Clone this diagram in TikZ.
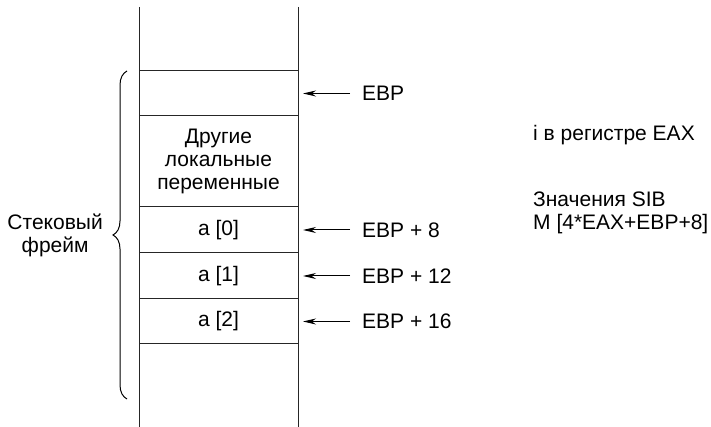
\documentclass[tikz,border=0pt]{standalone}
\usepackage{fontspec}
\setmainfont{Liberation Sans}
\usetikzlibrary{arrows.meta, positioning, decorations.pathreplacing}

\begin{document}
\begin{tikzpicture}[x=1pt, y=1pt,
        % Set global font size for consistency
        font=\fontsize{21}{23}\selectfont,
        % Define reusable styles for the stack and its pointers
        wall/.style={line width=1pt, black!85},
        cell/.style={draw=black!85, line width=1pt, minimum width=159pt, inner sep=0pt, outer sep=0pt, align=center},
        ptr/.style={-{Stealth[length=13pt, width=6pt]}, line width=1pt, shorten <=12pt, shorten >=5pt},
        lbl/.style={anchor=west, inner sep=0pt, align=left},
        framebrace/.style={decorate, decoration={brace, amplitude=14pt}, line width=1pt}
    ]

    \useasboundingbox (0,0) rectangle (711,427);

    % Side walls of the stack
    \draw[wall] (139,420) -- (139,0);
    \draw[wall] (298,420) -- (298,0);

    % Cells of the stack frame
    \node[cell, minimum height=45pt, anchor=north west] (ebp) at (139,356) {};
    \node[cell, minimum height=91pt, below=0pt of ebp] (loc) {Другие\\локальные\\переменные};
    \node[cell, minimum height=46pt, below=0pt of loc] (a0) {a [0]};
    \node[cell, minimum height=46pt, below=0pt of a0] (a1) {a [1]};
    \node[cell, minimum height=45pt, below=0pt of a1] (a2) {a [2]};

    % Pointers into the frame
    \node[lbl, right=64pt of ebp.east] (pebp) {EBP};
    \node[lbl, right=64pt of a0.east] (pa0) {EBP + 8};
    \node[lbl, right=64pt of a1.east] (pa1) {EBP + 12};
    \node[lbl, right=64pt of a2.east] (pa2) {EBP + 16};
    \draw[ptr] (pebp.west) -- (ebp.east);
    \draw[ptr] (pa0.west) -- (a0.east);
    \draw[ptr] (pa1.west) -- (a1.east);
    \draw[ptr] (pa2.west) -- (a2.east);

    % Brace around the stack frame
    \coordinate (brtop) at ([xshift=-12pt]ebp.north west);
    \coordinate (brbot) at (127,28);
    \coordinate (brtip) at (113,192);
    \draw[framebrace] (brbot) -- (brtop);
    \node[left=10pt of brtip, align=center, inner sep=0pt] (frame) {Стековый\\фрейм};

    % Notes on the right
    \node[lbl] (reg) at (533,292) {i в регистре EAX};
    \node[lbl] (sib) at (533,214) {Значения SIB\\M [4*EAX+EBP+8]};

\end{tikzpicture}
\end{document}
